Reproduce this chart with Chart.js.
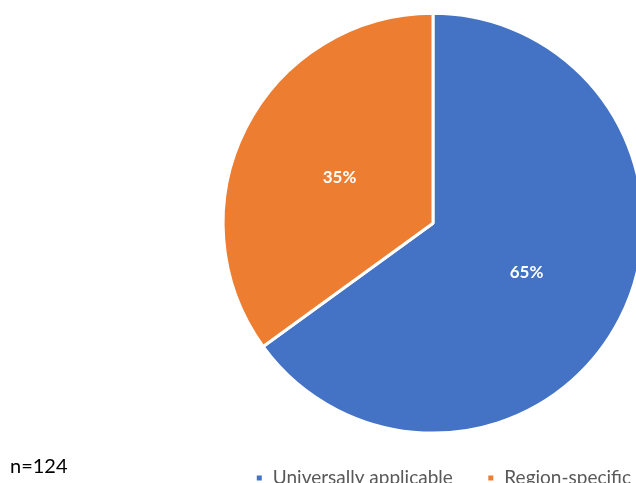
<!DOCTYPE html>
<html>
<head>
<meta charset="utf-8">
<script src="https://cdn.jsdelivr.net/npm/chart.js@4.4.1/dist/chart.umd.min.js"></script>
<style>
  html, body { margin: 0; padding: 0; background: #fff; overflow: hidden; }
  body { width: 636px; height: 483px; position: relative; }
  #wrap { position: absolute; left: 0; top: 0; width: 665px; height: 500px; }
  #nota { position: absolute; left: 10px; top: 455px; line-height: 20px; font-family: Lato, "Open Sans", sans-serif; font-size: 20px; color: #000; }
</style>
</head>
<body>
<div id="wrap"><canvas id="grafico" width="665" height="500"></canvas></div>
<div id="nota">n=124</div>
<script>
// Dados do gráfico
const categorias = ['Universally applicable', 'Region-specific'];
const valores = [65, 35];
const cores = ['#4472C4', '#ED7D31'];

// Plugin simples para escrever o percentual no meio de cada fatia
const rotulosFatia = {
  id: 'rotulosFatia',
  afterDatasetsDraw(chart) {
    const ctx = chart.ctx;
    const meta = chart.getDatasetMeta(0);
    const total = valores.reduce((a, b) => a + b, 0);
    ctx.save();
    ctx.fillStyle = '#ffffff';
    ctx.font = 'bold 17px Lato, "Open Sans", sans-serif';
    ctx.textAlign = 'center';
    ctx.textBaseline = 'middle';
    meta.data.forEach((arco, i) => {
      const p = arco.getCenterPoint();
      ctx.fillText(Math.round(valores[i] / total * 100) + '%', p.x, p.y + 2);
    });
    ctx.restore();
  }
};

const ctx = document.getElementById('grafico').getContext('2d');
new Chart(ctx, {
  type: 'pie',
  data: {
    labels: categorias,
    datasets: [{
      data: valores,
      backgroundColor: cores,
      borderColor: '#ffffff',
      borderWidth: 3
    }]
  },
  options: {
    responsive: false,
    animation: false,
    // área do gráfico centrada em x=433 (a legenda fica alinhada à direita)
    layout: { padding: { top: 11.8, bottom: 2.4, left: 201, right: 0 } },
    plugins: {
      tooltip: { enabled: false },
      legend: {
        position: 'bottom',
        align: 'end',
        labels: {
          boxWidth: 8,
          boxHeight: 8,
          padding: 34,
          color: '#595959',
          font: { family: 'Lato, "Open Sans", sans-serif', size: 19 }
        }
      }
    }
  },
  plugins: [rotulosFatia]
});
</script>
</body>
</html>
